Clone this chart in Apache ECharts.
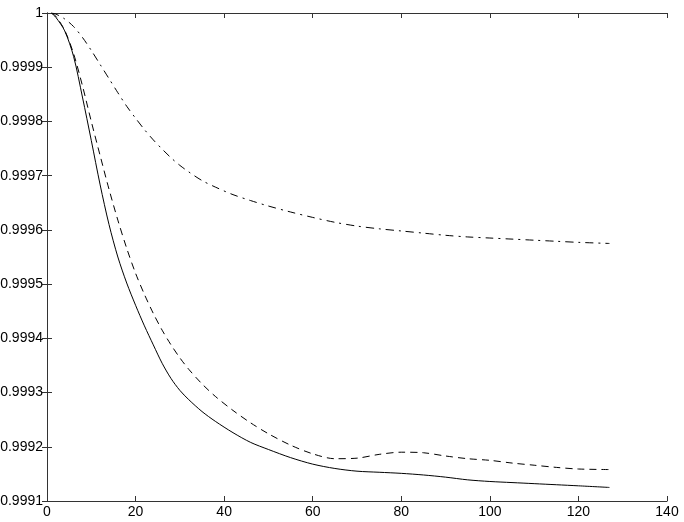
<!DOCTYPE html>
<html>
<head>
<meta charset="utf-8">
<script src="https://cdn.jsdelivr.net/npm/echarts@6/dist/echarts.min.js"></script>
<style>
html,body{margin:0;padding:0;background:#fff;}
#chart{width:684px;height:522px;}
</style>
</head>
<body>
<div id="chart"></div>
<script>
// sample positions (x)
const xs = [1, 2, 4, 6, 8, 10, 12, 14, 16, 18, 20, 22, 24, 26, 28, 30, 32, 35, 38, 42, 46, 50, 55, 60, 65, 70, 75, 80, 85, 90, 95, 100, 105, 110, 115, 120, 127];
// solid line
const solidVals = [1.0, 0.999992, 0.999967, 0.99992, 0.999845, 0.999765, 0.999683, 0.99961, 0.99955, 0.999502, 0.999461, 0.999423, 0.999388, 0.999354, 0.999326, 0.999304, 0.999287, 0.999265, 0.999247, 0.999226, 0.999208, 0.999195, 0.99918, 0.999168, 0.99916, 0.999155, 0.999153, 0.999151, 0.999148, 0.999144, 0.999139, 0.999136, 0.999134, 0.999132, 0.99913, 0.999128, 0.999125];
// dashed line
const dashedVals = [1.0, 0.999994, 0.999968, 0.999925, 0.999866, 0.9998, 0.999737, 0.999675, 0.999618, 0.999566, 0.99952, 0.999481, 0.999446, 0.999415, 0.999388, 0.999364, 0.999343, 0.999316, 0.999293, 0.999267, 0.999244, 0.999224, 0.999203, 0.999187, 0.999178, 0.999179, 0.999186, 0.99919, 0.999189, 0.999183, 0.999178, 0.999175, 0.99917, 0.999166, 0.999162, 0.999159, 0.999158];
// dash-dot line
const dashDotVals = [1.0, 0.999998, 0.999989, 0.999975, 0.999955, 0.999931, 0.999905, 0.999879, 0.999853, 0.999828, 0.999806, 0.999785, 0.999766, 0.999749, 0.999733, 0.999719, 0.999707, 0.999691, 0.999679, 0.999665, 0.999654, 0.999644, 0.999633, 0.999623, 0.999614, 0.999607, 0.999602, 0.999598, 0.999594, 0.99959, 0.999587, 0.999585, 0.999583, 0.999581, 0.999579, 0.999577, 0.999575];
// axis ticks
const xTicks = [0, 20, 40, 60, 80, 100, 120, 140];
const yTicks = ['0.9991', '0.9992', '0.9993', '0.9994', '0.9995', '0.9996', '0.9997', '0.9998', '0.9999', '1'];

const pair = vals => xs.map((x, i) => [x, vals[i]]);
const fmtY = v => {
  const idx = Math.round((v - 0.9991) / 0.0001);
  return yTicks[idx] !== undefined ? yTicks[idx] : '';
};
const frameColor = '#333';
const font = {color: '#000', fontSize: 14, fontFamily: 'Liberation Sans, Arial, sans-serif'};
const baseX = {
  type: 'value', min: xTicks[0], max: xTicks[xTicks.length - 1], interval: 20,
  axisLine: {show: true, lineStyle: {color: frameColor, width: 1}},
  axisTick: {show: true, inside: true, length: 5, lineStyle: {color: frameColor}},
  splitLine: {show: false}
};
const baseY = {
  type: 'value', min: 0.9991, max: 1, interval: 0.0001,
  axisLine: {show: true, lineStyle: {color: frameColor, width: 1}},
  axisTick: {show: true, inside: true, length: 5, lineStyle: {color: frameColor}},
  splitLine: {show: false}
};
const chart = echarts.init(document.getElementById('chart'), null, {renderer: 'canvas'});
const lineCommon = {type: 'line', showSymbol: false, symbol: 'none', smooth: 0.3, animation: false, silent: true};
chart.setOption({
  animation: false,
  backgroundColor: '#fff',
  grid: {left: 47, right: 17, top: 13, bottom: 21, containLabel: false, outerBoundsMode: 'none'},
  xAxis: [
    Object.assign({}, baseX, {position: 'bottom', axisLabel: Object.assign({margin: 4, formatter: v => String(v)}, font)}),
    Object.assign({}, baseX, {position: 'top', axisLabel: {show: false}})
  ],
  yAxis: [
    Object.assign({}, baseY, {position: 'left', axisLabel: Object.assign({margin: 4, formatter: fmtY}, font)}),
    Object.assign({}, baseY, {position: 'right', axisLabel: {show: false}})
  ],
  series: [
    Object.assign({}, lineCommon, {name: 'solid', data: pair(solidVals), lineStyle: {color: '#000', width: 1, type: 'solid'}}),
    Object.assign({}, lineCommon, {name: 'dashed', data: pair(dashedVals), lineStyle: {color: '#000', width: 1, type: [7, 5]}}),
    Object.assign({}, lineCommon, {name: 'dashdot', data: pair(dashDotVals), lineStyle: {color: '#000', width: 1, type: [8, 5, 2, 5]}})
  ]
});
</script>
</body>
</html>
